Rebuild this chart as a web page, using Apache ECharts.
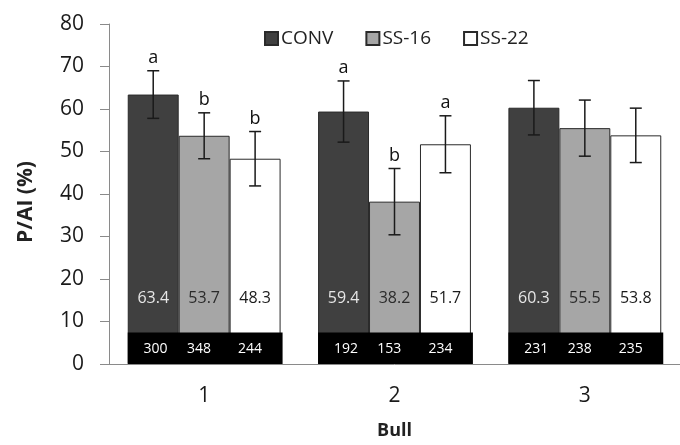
<!DOCTYPE html>
<html>
<head>
<meta charset="utf-8">
<script src="https://cdn.jsdelivr.net/npm/echarts@6/dist/echarts.min.js"></script>
<style>
  html, body { margin: 0; padding: 0; background: #fff; }
  #main { width: 680px; height: 445px; }
</style>
</head>
<body>
<div id="main"></div>
<script>
// data
var bulls = ['1', '2', '3']
var conv = [63.4, 59.4, 60.3]
var ss16 = [53.7, 38.2, 55.5]
var ss22 = [48.3, 51.7, 53.8]
var convErr = [5.6, 7.2, 6.4]
var ss16Err = [5.4, 7.8, 6.6]
var ss22Err = [6.4, 6.7, 6.4]
var convLetters = ['a', 'a', '']
var ss16Letters = ['b', 'b', '']
var ss22Letters = ['b', 'a', '']
var convN = [300, 192, 231]
var ss16N = [348, 153, 238]
var ss22N = [244, 234, 235]
var yTicks = [0, 10, 20, 30, 40, 50, 60, 70, 80]

var FONT = '"Open Sans", sans-serif'
var GAP = 0.197 // barCategoryGap
var BOX_TOP = 7.4 // top of the black n-box, in axis units

var means = [conv, ss16, ss22]
var errs = [convErr, ss16Err, ss22Err]
var letters = [convLetters, ss16Letters, ss22Letters]
var counts = [convN, ss16N, ss22N]

function barWidth(api) {
  return api.size([1, 0])[0] * (1 - GAP) / 3
}

function errorSeries(k) {
  return {
    type: 'custom',
    z: 5,
    silent: true,
    data: bulls.map(function (b, i) { return [i, means[k][i] - errs[k][i], means[k][i] + errs[k][i]] }),
    renderItem: function (params, api) {
      var i = api.value(0)
      var lo = api.coord([i, api.value(1)])
      var hi = api.coord([i, api.value(2)])
      var x = lo[0] + (k - 1) * barWidth(api)
      var cap = 6
      var st = { stroke: '#1a1a1a', lineWidth: 1.5 }
      var kids = [
        { type: 'line', shape: { x1: x, y1: hi[1], x2: x, y2: lo[1] }, style: st },
        { type: 'line', shape: { x1: x - cap, y1: hi[1], x2: x + cap, y2: hi[1] }, style: st },
        { type: 'line', shape: { x1: x - cap, y1: lo[1], x2: x + cap, y2: lo[1] }, style: st }
      ]
      var letter = letters[k][i]
      if (letter) {
        kids.push({
          type: 'text',
          x: x, y: hi[1] - 4,
          style: { text: letter, fill: '#111', font: '18px ' + FONT, align: 'center', verticalAlign: 'bottom' }
        })
      }
      return { type: 'group', children: kids }
    }
  }
}

function barSeries(name, data, fill, labelColor) {
  return {
    name: name,
    type: 'bar',
    data: data,
    barGap: '0%',
    barCategoryGap: (GAP * 100) + '%',
    itemStyle: { color: fill, borderColor: '#2a2a2a', borderWidth: 1 },
    label: {
      show: true,
      position: 'insideBottom',
      distance: 58,
      color: labelColor,
      fontSize: 16,
      fontFamily: FONT
    },
    emphasis: { disabled: true }
  }
}

var chart = echarts.init(document.getElementById('main'))
chart.setOption({
  animation: false,
  legend: {
    data: ['CONV', 'SS-16', 'SS-22'],
    left: 259,
    top: 24,
    icon: 'rect',
    itemWidth: 13,
    itemHeight: 13,
    itemGap: 32,
    textStyle: { fontSize: 19, fontFamily: FONT, color: '#222', padding: [0, 0, 0, -2] }
  },
  grid: { left: 109, top: 24, width: 574, bottom: 78 },
  xAxis: {
    type: 'category',
    data: bulls,
    name: 'Bull',
    nameLocation: 'middle',
    nameGap: 58,
    nameTextStyle: { fontSize: 18, fontWeight: 'bold', fontFamily: FONT, color: '#222' },
    axisLine: { lineStyle: { color: '#8a8a8a', width: 1 } },
    axisTick: { length: 9, lineStyle: { color: '#8a8a8a' } },
    axisLabel: { fontSize: 21, fontFamily: FONT, color: '#1a1a1a', margin: 22 }
  },
  yAxis: {
    type: 'value',
    min: 0,
    max: 80,
    interval: 10,
    name: 'P/AI (%)',
    nameLocation: 'middle',
    nameGap: 72,
    nameTextStyle: { fontSize: 21, fontWeight: 'bold', fontFamily: FONT, color: '#222', padding: [0, 16, 0, 0] },
    splitLine: { show: false },
    axisLine: { show: true, lineStyle: { color: '#8a8a8a', width: 1 } },
    axisTick: { show: true, length: 9, lineStyle: { color: '#8a8a8a' } },
    axisLabel: {
      fontSize: 21, fontFamily: FONT, color: '#1a1a1a', margin: 25,
      formatter: function (v) { return yTicks.indexOf(v) >= 0 ? String(v) : '' }
    }
  },
  series: [
    barSeries('CONV', conv, '#404040', '#e6e6e6'),
    barSeries('SS-16', ss16, '#a6a6a6', '#2b2b2b'),
    barSeries('SS-22', ss22, '#ffffff', '#1a1a1a'),
    {
      // black boxes with the n per group
      type: 'custom',
      z: 4,
      silent: true,
      data: bulls.map(function (b, i) { return [i, BOX_TOP] }),
      renderItem: function (params, api) {
        var i = api.value(0)
        var base = api.coord([i, 0])
        var top = api.coord([i, api.value(1)])
        var w = barWidth(api) * 3 + 2
        var x0 = base[0] - w / 2 + 1
        var kids = [{
          type: 'rect',
          shape: { x: x0, y: top[1], width: w, height: base[1] - top[1] },
          style: { fill: '#000' }
        }]
        var fr = [0.18, 0.46, 0.79]
        for (var k = 0; k < 3; k++) {
          kids.push({
            type: 'text',
            x: x0 + w * fr[k], y: (top[1] + base[1]) / 2 + 1,
            style: { text: String(counts[k][i]), fill: '#fff', font: '14px ' + FONT, align: 'center', verticalAlign: 'middle' }
          })
        }
        return { type: 'group', children: kids }
      }
    },
    errorSeries(0),
    errorSeries(1),
    errorSeries(2)
  ]
})
</script>
</body>
</html>
